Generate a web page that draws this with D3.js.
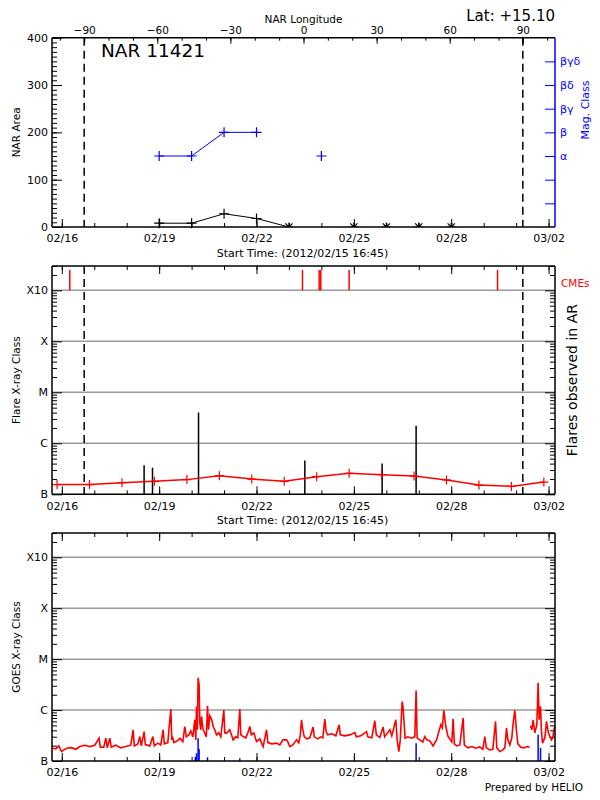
<!DOCTYPE html>
<html><head><meta charset="utf-8">
<script src="https://cdn.jsdelivr.net/npm/d3@7"></script>
<style>
body{margin:0;background:#fff;}
svg{display:block;font-family:"DejaVu Sans",sans-serif;}
</style></head><body>
<svg id="c" width="600" height="800"></svg>
<script>
// ================= DATA =================
const timeRange = ["2012-02-15T16:45Z", "2012-03-02T04:45Z"];
const startLabel = "Start Time: (2012/02/15 16:45)";
const dayTickLabels = ["02/16", "02/19", "02/22", "02/25", "02/28", "03/02"];
const lonRange = [-103.2, 103.2];
const lonTicks = [-90, -60, -30, 0, 30, 60, 90];
const limbLon = [-90, 90];
const regionName = "NAR 11421";
const latText = "Lat: +15.10";

// NAR area (panel 1, black)
const narDates = ["2012-02-19", "2012-02-20", "2012-02-21", "2012-02-22", "2012-02-23"];
const narArea = [8, 8, 28, 18, 0];
const narZeroDates = ["2012-02-23", "2012-02-25", "2012-02-26", "2012-02-27", "2012-02-28"];
const areaTicks = [0, 100, 200, 300, 400];
const areaRange = [0, 400];

// Magnetic class (panel 1, blue)
const magDates = ["2012-02-19", "2012-02-20", "2012-02-21", "2012-02-22", "2012-02-23", "2012-02-24"];
const magClass = ["α", "α", "β", "β", null, "α"];
const magTickLabels = ["", "", "α", "β", "βγ", "βδ", "βγδ"]; // levels 1..7
const magRange = [0, 8];

// X-ray class axis
const classTicks = [1e-7, 1e-6, 1e-5, 1e-4, 1e-3];
const classLabels = ["B", "C", "M", "X", "X10"];
const fluxRange = [1e-7, 3e-3];

// Panel 2: CMEs, flares, background
const cmeTimes = ["2012-02-16T05:55Z", "2012-02-23T10:00Z", "2012-02-23T22:20Z", "2012-02-23T23:32Z", "2012-02-24T20:30Z", "2012-02-29T10:15Z"];
const cmeBand = [1e-3, 2.5e-3];
const flareTimes = ["2012-02-18T12:52Z", "2012-02-18T19:05Z", "2012-02-20T05:07Z", "2012-02-23T11:44Z", "2012-02-25T20:54Z", "2012-02-26T22:02Z"];
const flarePeak = [3.7e-7, 3.3e-7, 4.0e-6, 4.6e-7, 4.0e-7, 2.2e-6];
const bgTimes = ["2012-02-15T20:30Z", "2012-02-16T20:30Z", "2012-02-17T20:30Z", "2012-02-18T20:30Z", "2012-02-19T20:30Z", "2012-02-20T20:30Z", "2012-02-21T20:30Z", "2012-02-22T20:30Z", "2012-02-23T20:30Z", "2012-02-24T20:30Z", "2012-02-25T20:30Z", "2012-02-26T20:30Z", "2012-02-27T20:30Z", "2012-02-28T20:30Z", "2012-02-29T20:30Z", "2012-03-01T20:30Z"];
const bgFlux = [1.55e-7, 1.55e-7, 1.69e-7, 1.80e-7, 1.94e-7, 2.32e-7, 1.99e-7, 1.80e-7, 2.22e-7, 2.58e-7, 2.43e-7, 2.28e-7, 1.91e-7, 1.52e-7, 1.43e-7, 1.74e-7];

// Panel 3: GOES long channel, [days since 2012-02-16 00:00 UT, flux in units of 1e-7 W/m^2]
const goesLong = [
[-0.293,1.78],[-0.185,1.73],[-0.092,1.98],[-0.009,1.53],[0.062,1.65],[0.154,1.78],[0.308,1.83],[0.431,1.70],[0.555,1.92],[0.709,2.04],
[0.863,1.92],[1.017,2.04],[1.149,2.81],[1.186,1.87],[1.294,1.87],[1.356,2.81],[1.402,1.81],[1.479,2.81],[1.525,1.87],[1.664,2.04],
[1.818,1.81],[1.972,1.92],[2.126,2.04],[2.197,4.1],[2.234,1.98],[2.342,2.17],[2.404,3.02],[2.45,1.98],[2.536,3.79],[2.573,2.1],
[2.712,1.98],[2.804,3.02],[2.851,1.98],[2.958,2.24],[3.051,2.07],[3.122,4.1],[3.159,2.17],[3.267,2.3],[3.359,10.5],[3.39,2.6],
[3.411,3.02],[3.451,2.3],[3.575,2.52],[3.636,2.81],[3.729,2.41],[3.79,4.76],[3.837,2.98],[3.914,3.26],[3.975,3.92],[4.037,2.98],
[4.099,6.46],[4.129,2.6],[4.151,11.8],[4.176,4.1],[4.2,43.1],[4.231,31.8],[4.253,5.56],[4.284,4.1],[4.305,7.5],[4.354,4.1],
[4.407,3.57],[4.453,2.98],[4.49,12.2],[4.521,4.1],[4.561,7.75],[4.622,6.46],[4.663,4.76],[4.715,4.1],[4.767,3.26],[4.838,3.57],
[4.9,2.98],[4.992,10.0],[5.023,3.57],[5.075,3.5],[5.177,4.1],[5.239,3.12],[5.279,2.6],[5.362,2.98],[5.424,2.85],[5.485,10.5],
[5.516,3.26],[5.587,3.02],[5.67,2.85],[5.732,3.57],[5.794,4.76],[5.84,3.26],[5.917,3.57],[6.0,2.41],[6.102,2.72],[6.204,1.92],
[6.309,4.1],[6.349,2.3],[6.472,2.17],[6.617,2.24],[6.718,2.07],[6.81,2.6],[6.925,2.6],[6.965,2.37],[7.026,1.92],[7.119,2.07],
[7.233,2.6],[7.304,2.27],[7.35,3.26],[7.387,6.46],[7.427,4.1],[7.473,2.98],[7.55,2.72],[7.643,2.85],[7.744,4.63],[7.781,2.98],
[7.889,2.72],[7.982,2.98],[8.043,2.85],[8.105,6.67],[8.145,3.74],[8.197,3.26],[8.32,3.42],[8.444,3.12],[8.545,5.15],[8.582,3.26],
[8.721,3.12],[8.875,3.26],[9.029,3.62],[9.075,2.98],[9.214,3.12],[9.39,3.79],[9.43,2.98],[9.553,2.85],[9.646,6.18],[9.692,3.26],
[9.8,2.89],[9.901,4.63],[9.948,2.98],[10.108,4.1],[10.169,3.12],[10.293,6.46],[10.333,2.6],[10.385,1.53],[10.431,2.6],[10.487,14.7],
[10.518,11.0],[10.555,4.92],[10.579,2.81],[10.663,2.98],[10.786,2.81],[10.878,2.98],[10.918,24.2],[10.949,2.81],[11.032,2.6],[11.125,2.37],
[11.186,3.02],[11.248,2.6],[11.341,2.49],[11.442,1.98],[11.547,2.6],[11.618,3.74],[11.68,5.15],[11.726,4.49],[11.772,9.88],[11.834,4.76],
[11.895,3.12],[11.972,2.6],[12.018,2.37],[12.059,6.76],[12.096,2.17],[12.173,1.98],[12.265,2.07],[12.367,6.98],[12.404,2.07],[12.511,1.81],
[12.635,1.92],[12.758,1.78],[12.881,1.89],[12.974,1.70],[13.035,3.02],[13.082,1.81],[13.19,1.65],[13.282,1.70],[13.365,5.98],[13.405,1.81],
[13.498,1.53],[13.59,1.65],[13.652,1.81],[13.704,4.43],[13.744,2.6],[13.806,2.07],[13.867,2.85],[13.908,5.56],[13.96,9.88],[14.012,3.79],
[14.052,2.17],[14.145,1.87],[14.237,1.81],[14.33,1.92],[14.413,1.87],[14.428,null],[14.444,4.92],[14.484,4.1],[14.524,6.46],[14.576,3.57],
[14.638,5.15],[14.678,34.3],[14.709,6.46],[14.752,11.8],[14.777,4.1],[14.814,2.24],[14.854,2.6],[14.884,2.81],[14.937,5.98],[14.986,3.79],
[15.039,2.98],[15.09,2.6],[15.131,2.85],[15.162,4.1],[15.193,4.76]
];
// GOES short channel, only where above B level (same units)
const goesShort = [[4.114,1.2],[4.151,1.42],[4.2,2.81],[4.231,1.73],[4.49,1.18],[5.485,1.13],[10.918,2.24],[14.678,3.26],[14.752,1.81]];

// ================= DRAWING =================
const svg = d3.select("#c");
const X0 = 52, X1 = 555;
const P1 = {top: 37.7, bottom: 227};
const P2 = {top: 266, bottom: 494.3};
const P3 = {top: 533, bottom: 761};
const FONT = "DejaVu Sans";
const RED = "#ff0000", BLUE = "#0000ff", GRID = "#9a9a9a";

const x = d3.scaleUtc().domain(timeRange.map(d => new Date(d))).range([X0, X1]);
const T0 = Date.UTC(2012, 1, 16);
const dayDate = d => new Date(T0 + d * 864e5);
const allDays = d3.utcDay.range(d3.utcDay.ceil(x.domain()[0]), x.domain()[1]);
const labelDates = dayTickLabels.map(l => new Date(Date.UTC(2012, +l.slice(0, 2) - 1, +l.slice(3))));
const lon = d3.scaleLinear().domain(lonRange).range([X0, X1]);

function styleAxis(g, size, color) {
  g.select(".domain").remove();
  g.attr("font-family", null).attr("font-size", null);
  g.selectAll("text").attr("font-family", FONT).attr("font-size", size || 11).attr("fill", color || "#000");
  g.selectAll("line").attr("stroke", color || "#000").attr("stroke-width", 1);
}
function frame(p, rightColor) {
  const g = svg.append("g").attr("stroke-width", 1.5).attr("fill", "none");
  g.append("line").attr("x1", X0).attr("x2", X1).attr("y1", p.top).attr("y2", p.top).attr("stroke", "#000");
  g.append("line").attr("x1", X0).attr("x2", X1).attr("y1", p.bottom).attr("y2", p.bottom).attr("stroke", "#000");
  g.append("line").attr("x1", X0).attr("x2", X0).attr("y1", p.top).attr("y2", p.bottom).attr("stroke", "#000");
  g.append("line").attr("x1", X1).attr("x2", X1).attr("y1", p.top).attr("y2", p.bottom).attr("stroke", rightColor || "#000");
}
function timeAxes(p, topTicks) {
  svg.append("g").attr("transform", `translate(0,${p.bottom})`)
    .call(d3.axisBottom(x).tickValues(allDays).tickSize(-4).tickFormat("")).call(styleAxis);
  svg.append("g").attr("transform", `translate(0,${p.bottom})`)
    .call(d3.axisBottom(x).tickValues(labelDates).tickSize(-8).tickPadding(7.5).tickFormat((d, i) => dayTickLabels[i]))
    .call(styleAxis);
  if (topTicks) {
    svg.append("g").attr("transform", `translate(0,${p.top})`)
      .call(d3.axisTop(x).tickValues(allDays).tickSize(-4).tickFormat("")).call(styleAxis);
    svg.append("g").attr("transform", `translate(0,${p.top})`)
      .call(d3.axisTop(x).tickValues(labelDates).tickSize(-8).tickFormat("")).call(styleAxis);
  }
}
function clip(id, p) {
  svg.append("clipPath").attr("id", id).append("rect")
    .attr("x", X0).attr("y", p.top).attr("width", X1 - X0).attr("height", p.bottom - p.top);
  return `url(#${id})`;
}
const plus = (s) => `M${-s},0H${s}M0,${-s}V${s}`;
const aster = (s) => `M${-s},0H${s}M0,${-s}V${s}M${-s*0.8},${-s*0.8}L${s*0.8},${s*0.8}M${-s*0.8},${s*0.8}L${s*0.8},${-s*0.8}`;
function vlabel(text, xx, yy, size, color) {
  svg.append("text").attr("transform", `translate(${xx},${yy}) rotate(-90)`)
    .attr("text-anchor", "middle").attr("font-family", FONT).attr("font-size", size)
    .attr("fill", color || "#000").text(text);
}
function logAxes(p) {
  const y = d3.scaleLog().domain(fluxRange).range([p.bottom, p.top]);
  const isMajor = v => Math.abs(Math.log10(v) - Math.round(Math.log10(v))) < 1e-6;
  const minor = y.ticks(20).filter(v => !isMajor(v) && v <= fluxRange[1]);
  svg.append("g").selectAll("line").data(classTicks.slice(1)).join("line")
    .attr("x1", X0).attr("x2", X1).attr("y1", d => y(d)).attr("y2", d => y(d))
    .attr("stroke", GRID).attr("stroke-width", 1.5);
  svg.append("g").attr("transform", `translate(${X0},0)`)
    .call(d3.axisLeft(y).tickValues(minor).tickSize(-5).tickFormat("")).call(styleAxis);
  svg.append("g").attr("transform", `translate(${X0},0)`)
    .call(d3.axisLeft(y).tickValues(classTicks).tickSize(-10).tickPadding(4).tickFormat((d, i) => classLabels[i]))
    .call(styleAxis);
  svg.append("g").attr("transform", `translate(${X1},0)`)
    .call(d3.axisRight(y).tickValues(minor).tickSize(-5).tickFormat("")).call(styleAxis);
  svg.append("g").attr("transform", `translate(${X1},0)`)
    .call(d3.axisRight(y).tickValues(classTicks).tickSize(-10).tickFormat("")).call(styleAxis);
  return y;
}
function limbLines(p) {
  svg.append("g").selectAll("line").data(limbLon).join("line")
    .attr("x1", d => lon(d)).attr("x2", d => lon(d)).attr("y1", p.top).attr("y2", p.bottom)
    .attr("stroke", "#000").attr("stroke-width", 1.5).attr("stroke-dasharray", "8,5");
}

// ---------- Panel 1 ----------
{
  const p = P1;
  const yA = d3.scaleLinear().domain(areaRange).range([p.bottom, p.top]);
  const yM = d3.scaleLinear().domain(magRange).range([p.bottom, p.top]);
  const cp = clip("c1", p);
  limbLines(p);
  svg.append("g").attr("transform", `translate(${X0},0)`)
    .call(d3.axisLeft(yA).tickValues(d3.range(0, 401, 10)).tickSize(-5).tickFormat("")).call(styleAxis);
  svg.append("g").attr("transform", `translate(${X0},0)`)
    .call(d3.axisLeft(yA).tickValues(areaTicks).tickSize(-10).tickPadding(4)).call(styleAxis);
  svg.append("g").attr("transform", `translate(${X1},0)`)
    .call(d3.axisRight(yM).tickValues(d3.range(1, 8)).tickSize(-10).tickPadding(5).tickFormat((d, i) => magTickLabels[i]))
    .call(g => styleAxis(g, 11, BLUE));
  svg.append("g").attr("transform", `translate(0,${p.top})`)
    .call(d3.axisTop(lon).tickValues(d3.range(-100, 101, 10)).tickSize(-3).tickFormat("")).call(styleAxis);
  svg.append("g").attr("transform", `translate(0,${p.top})`)
    .call(d3.axisTop(lon).tickValues(lonTicks).tickSize(-6).tickPadding(3.5).tickFormat(d3.format("d")))
    .call(g => styleAxis(g, 10.5));
  timeAxes(p, false);
  frame(p, BLUE);

  const magPts = magDates.map((d, i) => ({t: new Date(d + "T00:00Z"), c: magClass[i]}));
  const magVal = c => magTickLabels.indexOf(c) + 1;
  svg.append("path").datum(magPts).attr("clip-path", cp)
    .attr("d", d3.line().defined(d => d.c).x(d => x(d.t)).y(d => yM(magVal(d.c))))
    .attr("fill", "none").attr("stroke", BLUE).attr("stroke-width", 1);
  svg.append("g").selectAll("path").data(magPts.filter(d => d.c)).join("path")
    .attr("transform", d => `translate(${x(d.t)},${yM(magVal(d.c))})`)
    .attr("d", plus(5)).attr("stroke", BLUE).attr("stroke-width", 1.2).attr("fill", "none");

  const narPts = narDates.map((d, i) => ({t: new Date(d + "T00:00Z"), v: narArea[i]}));
  svg.append("path").datum(narPts).attr("clip-path", cp)
    .attr("d", d3.line().x(d => x(d.t)).y(d => yA(d.v)))
    .attr("fill", "none").attr("stroke", "#000").attr("stroke-width", 1);
  svg.append("g").selectAll("path").data(narPts.filter(d => d.v > 0)).join("path")
    .attr("transform", d => `translate(${x(d.t)},${yA(d.v)})`)
    .attr("d", plus(5)).attr("stroke", "#000").attr("stroke-width", 1.2).attr("fill", "none");
  svg.append("g").attr("clip-path", cp).selectAll("path").data(narZeroDates).join("path")
    .attr("transform", d => `translate(${x(new Date(d + "T00:00Z"))},${yA(0)})`)
    .attr("d", aster(4.5)).attr("stroke", "#000").attr("stroke-width", 1.2).attr("fill", "none");

  svg.append("text").attr("x", 303.5).attr("y", 22.5).attr("text-anchor", "middle")
    .attr("font-family", FONT).attr("font-size", 10.5).text("NAR Longitude");
  svg.append("text").attr("x", 555).attr("y", 21).attr("text-anchor", "end")
    .attr("font-family", FONT).attr("font-size", 15).text(latText);
  svg.append("text").attr("x", 101).attr("y", 57).attr("font-family", FONT).attr("font-size", 18.5).text(regionName);
  vlabel("NAR Area", 19.5, (p.top + p.bottom) / 2, 10.5);
  vlabel("Mag. Class", 589, 110, 11, BLUE);
  svg.append("text").attr("x", 302.5).attr("y", 256.5).attr("text-anchor", "middle")
    .attr("font-family", FONT).attr("font-size", 11).text(startLabel);
}

// ---------- Panel 2 ----------
{
  const p = P2;
  const cp = clip("c2", p);
  const y = logAxes(p);
  limbLines(p);
  timeAxes(p, true);
  svg.append("g").attr("clip-path", cp).selectAll("line").data(cmeTimes).join("line")
    .attr("x1", d => x(new Date(d))).attr("x2", d => x(new Date(d)))
    .attr("y1", y(cmeBand[0])).attr("y2", y(cmeBand[1]))
    .attr("stroke", RED).attr("stroke-width", 1.5);
  svg.append("g").attr("clip-path", cp).selectAll("line").data(flareTimes).join("line")
    .attr("x1", d => x(new Date(d))).attr("x2", d => x(new Date(d)))
    .attr("y1", y(fluxRange[0])).attr("y2", (d, i) => y(flarePeak[i]))
    .attr("stroke", "#000").attr("stroke-width", 1.5);
  const bg = bgTimes.map((d, i) => ({t: new Date(d), v: bgFlux[i]}));
  svg.append("path").datum(bg).attr("clip-path", cp)
    .attr("d", d3.line().x(d => x(d.t)).y(d => y(d.v)))
    .attr("fill", "none").attr("stroke", RED).attr("stroke-width", 1.5);
  svg.append("g").selectAll("path").data(bg).join("path")
    .attr("transform", d => `translate(${x(d.t)},${y(d.v)})`)
    .attr("d", plus(4.5)).attr("stroke", RED).attr("stroke-width", 1.2).attr("fill", "none");
  frame(p);
  svg.append("text").attr("x", 561).attr("y", 287).attr("font-family", FONT).attr("font-size", 10.5)
    .attr("fill", RED).text("CMEs");
  vlabel("Flare X-ray Class", 19.5, (p.top + p.bottom) / 2, 10.5);
  vlabel("Flares observed in AR", 577, (p.top + p.bottom) / 2, 14);
  svg.append("text").attr("x", 302.5).attr("y", 523.5).attr("text-anchor", "middle")
    .attr("font-family", FONT).attr("font-size", 11).text(startLabel);
}

// ---------- Panel 3 ----------
{
  const p = P3;
  const cp = clip("c3", p);
  const y = logAxes(p);
  timeAxes(p, true);
  svg.append("g").attr("clip-path", cp).selectAll("line").data(goesShort).join("line")
    .attr("x1", d => x(dayDate(d[0]))).attr("x2", d => x(dayDate(d[0])))
    .attr("y1", y(fluxRange[0])).attr("y2", d => y(d[1] * 1e-7))
    .attr("stroke", BLUE).attr("stroke-width", 1.5);
  svg.append("path").datum(goesLong).attr("clip-path", cp)
    .attr("d", d3.line().defined(d => d[1] != null).x(d => x(dayDate(d[0]))).y(d => y(d[1] * 1e-7)))
    .attr("fill", "none").attr("stroke", RED).attr("stroke-width", 1.6).attr("stroke-linejoin", "miter");
  frame(p);
  vlabel("GOES X-ray Class", 19.5, (p.top + p.bottom) / 2, 10.5);
  svg.append("text").attr("x", 583).attr("y", 791).attr("text-anchor", "end")
    .attr("font-family", FONT).attr("font-size", 10.5).text("Prepared by HELIO");
}
</script>
</body></html>
